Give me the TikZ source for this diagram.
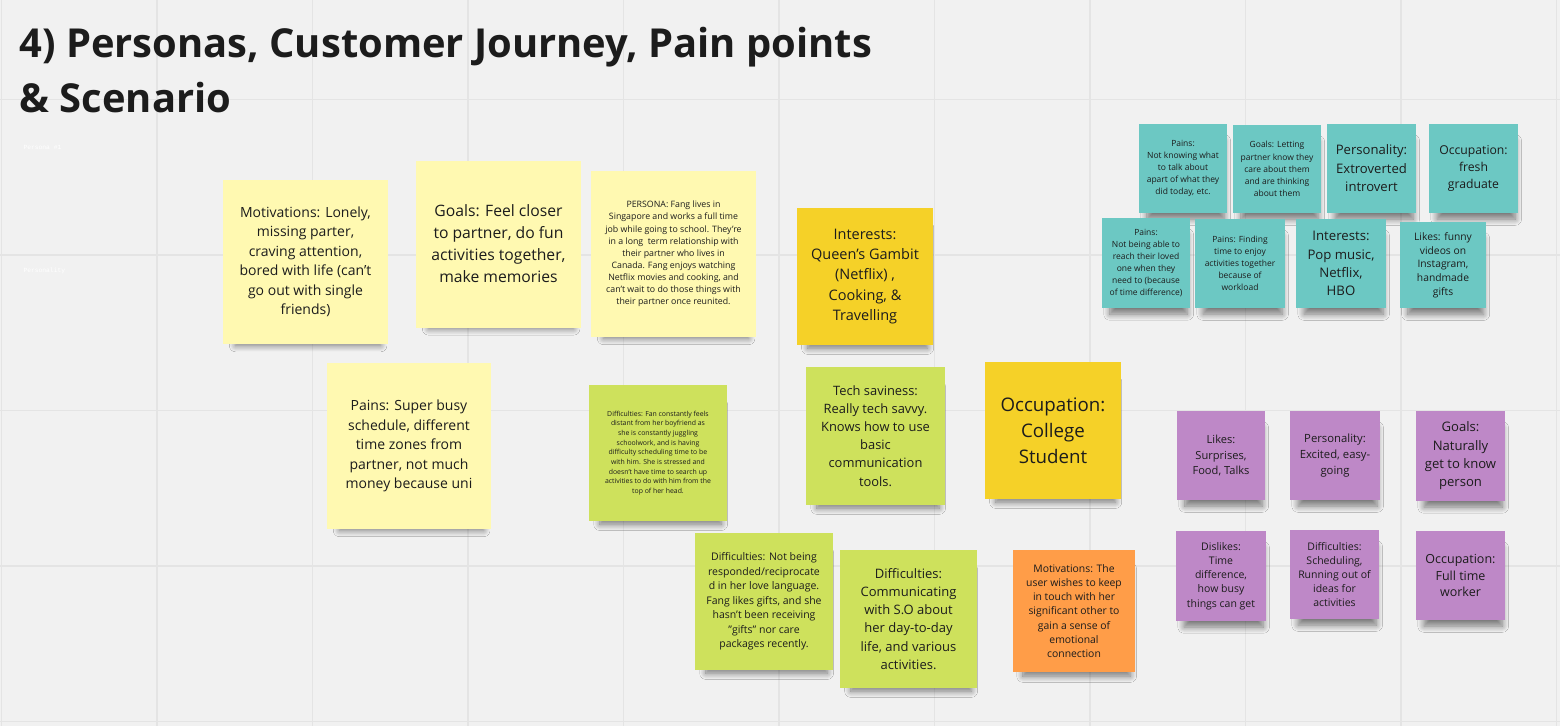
\documentclass[tikz,border=0pt]{standalone}
\usepackage{fontspec}
\setmainfont{Open Sans}
\newfontfamily\labelfont{Liberation Mono}
\usepackage{tikz}
\usetikzlibrary{shadows.blur}
\definecolor{board}{RGB}{241,241,241}
\definecolor{gridline}{RGB}{228,228,228}
\definecolor{ink}{RGB}{28,28,28}
\definecolor{paleyellow}{RGB}{255,249,177}
\definecolor{gold}{RGB}{245,209,40}
\definecolor{lime}{RGB}{206,225,92}
\definecolor{tangerine}{RGB}{255,157,72}
\definecolor{teal}{RGB}{108,200,195}
\definecolor{violet}{RGB}{190,136,199}
\newcommand{\fs}[2]{\fontsize{#1}{#2}\selectfont}
\tikzset{
  sticky/.style={fill=#1, inner sep=0pt, align=center, text=ink,
    blur shadow={shadow xshift=3pt, shadow yshift=-13pt, shadow scale=0.88,
      shadow blur radius=7pt, shadow blur steps=10, shadow opacity=50}},
  size/.style 2 args={minimum width=#1pt, minimum height=#2pt},
  boardlabel/.style={anchor=west, text=white, font=\labelfont\fs{6.3}{7}},
}

\begin{document}
\begin{tikzpicture}[x=1pt,y=-1pt]
  \fill[board] (0,0) rectangle (1560,726);
  \useasboundingbox (0,0) rectangle (1560,726);
  % board grid
  \foreach \gx in {1.5,157,312.5,468,623.5,779,934.5,1090,1245.5,1401,1556.5}
    \draw[gridline, line width=1.2pt] (\gx,0) -- (\gx,726);
  \foreach \gy in {99.5,255,410.5,566,721.5}
    \draw[gridline, line width=1.2pt] (0,\gy) -- (1560,\gy);

  \node[anchor=north west, align=left, text=ink, font=\bfseries\fs{39.9}{55}] (title) at (16,24)
    {4) Personas, Customer Journey, Pain points\\\& Scenario};
  \node[boardlabel] (lblpersona) at (20,147) {Persona \#1};
  \node[boardlabel] (lblpersonality) at (20,271) {Personality};

  % persona notes
  \node[sticky=paleyellow, size={165}{164}, font=\fs{14}{19.5}] (motives) at (305.5,262)
    {Motivations: Lonely,\\missing parter,\\craving attention,\\bored with life (can't\\go out with single\\friends)};
  \node[sticky=paleyellow, size={165}{167}, font=\fs{15.7}{22}] (goals) at (498.5,244)
    {Goals: Feel closer\\to partner, do fun\\activities together,\\make memories};
  \node[sticky=paleyellow, size={165}{166}, font=\fs{8.8}{12.1}] (persona) at (673.5,254)
    {PERSONA: Fang lives in\\Singapore and works a full time\\job while going to school. They're\\in a long\ \ term relationship with\\their partner who lives in\\Canada. Fang enjoys watching\\Netflix movies and cooking, and\\can't wait to do those things with\\their partner once reunited.};
  \node[sticky=paleyellow, size={164}{166}, font=\fs{14}{19.5}] (pains) at (409,446)
    {Pains: Super busy\\schedule, different\\time zones from\\partner, not much\\money because uni};
  \node[sticky=gold, size={136}{137}, font=\fs{14.5}{20.3}] (interests) at (865,276.5)
    {Interests:\\Queen's Gambit\\(Netflix) ,\\Cooking, \&\\Travelling};
  \node[sticky=gold, size={136}{137}, font=\fs{18.7}{26.2}] (occupation) at (1053,430.5)
    {Occupation:\\College\\Student};
  \node[sticky=lime, size={138}{136}, font=\fs{6.9}{9.7}] (diffjuggle) at (658,453)
    {Difficulties: Fan constantly feels\\distant from her boyfriend as\\she is constantly juggling\\schoolwork, and is having\\difficulty scheduling time to be\\with him. She is stressed and\\doesn't have time to search up\\activities to do with him from the\\top of her head.};
  \node[sticky=lime, size={139}{138}, font=\fs{12.9}{18.1}] (tech) at (875.5,436)
    {Tech saviness:\\Really tech savvy.\\Knows how to use\\basic\\communication\\tools.};
  \node[sticky=lime, size={138}{137}, font=\fs{10.5}{14.5}] (diffgifts) at (764,601.5)
    {Difficulties: Not being\\responded/reciprocate\\d in her love language.\\Fang likes gifts, and she\\hasn't been receiving\\"gifts" nor care\\packages recently.};
  \node[sticky=lime, size={137}{138}, font=\fs{13}{18.1}] (diffcomm) at (908.5,619)
    {Difficulties:\\Communicating\\with S.O about\\her day-to-day\\life, and various\\activities.};
  \node[sticky=tangerine, size={122}{122}, font=\fs{10.4}{14.3}] (motiveuser) at (1074,611)
    {Motivations: The\\user wishes to keep\\in touch with her\\significant other to\\gain a sense of\\emotional\\connection};

  % teal group
  \node[sticky=teal, size={88}{89}, font=\fs{8.5}{12.1}] (tpainstalk) at (1183,168.5)
    {Pains:\\Not knowing what\\to talk about\\apart of what they\\did today, etc.};
  \node[sticky=teal, size={88}{88}, font=\fs{8.5}{12.1}] (tgoals) at (1277,169)
    {Goals: Letting\\partner know they\\care about them\\and are thinking\\about them};
  \node[sticky=teal, size={89}{89}, font=\fs{13.1}{18.5}] (tpersonality) at (1371.5,168.5)
    {Personality:\\Extroverted\\introvert};
  \node[sticky=teal, size={89}{89}, font=\fs{12.2}{17}] (toccupation) at (1473.5,168.5)
    {Occupation:\\fresh\\graduate};
  \node[sticky=teal, size={88}{90}, font=\fs{8.5}{12.1}] (tpainsreach) at (1146,263)
    {Pains:\\Not being able to\\reach their loved\\one when they\\need to (because\\of time difference)};
  \node[sticky=teal, size={90}{89}, font=\fs{8.5}{12.1}] (tpainstime) at (1240,263.5)
    {Pains: Finding\\time to enjoy\\activities together\\because of\\workload};
  \node[sticky=teal, size={90}{89}, font=\fs{13.2}{18.2}] (tinterests) at (1341,263.5)
    {Interests:\\Pop music,\\Netflix,\\HBO};
  \node[sticky=teal, size={86}{86}, font=\fs{10.3}{13.7}] (tlikes) at (1443,265)
    {Likes: funny\\videos on\\Instagram,\\handmade\\gifts};

  % violet group
  \node[sticky=violet, size={88}{89}, font=\fs{11.1}{15.8}] (vlikes) at (1221,455.5)
    {Likes:\\Surprises,\\Food, Talks};
  \node[sticky=violet, size={90}{89}, font=\fs{11.3}{15.8}] (vpersonality) at (1335,455.5)
    {Personality:\\Excited, easy-\\going};
  \node[sticky=violet, size={89}{90}, font=\fs{13.1}{18.3}] (vgoals) at (1460.5,456)
    {Goals:\\Naturally\\get to know\\person};
  \node[sticky=violet, size={90}{90}, font=\fs{10.5}{14.2}] (vdislikes) at (1221,576)
    {Dislikes:\\Time\\difference,\\how busy\\things can get};
  \node[sticky=violet, size={89}{89}, font=\fs{10.5}{14.2}] (vdifficulties) at (1334.5,574.5)
    {Difficulties:\\Scheduling,\\Running out of\\ideas for\\activities};
  \node[sticky=violet, size={89}{89}, font=\fs{12.5}{16.8}] (voccupation) at (1460.5,575.5)
    {Occupation:\\Full time\\worker};
\end{tikzpicture}
\end{document}
